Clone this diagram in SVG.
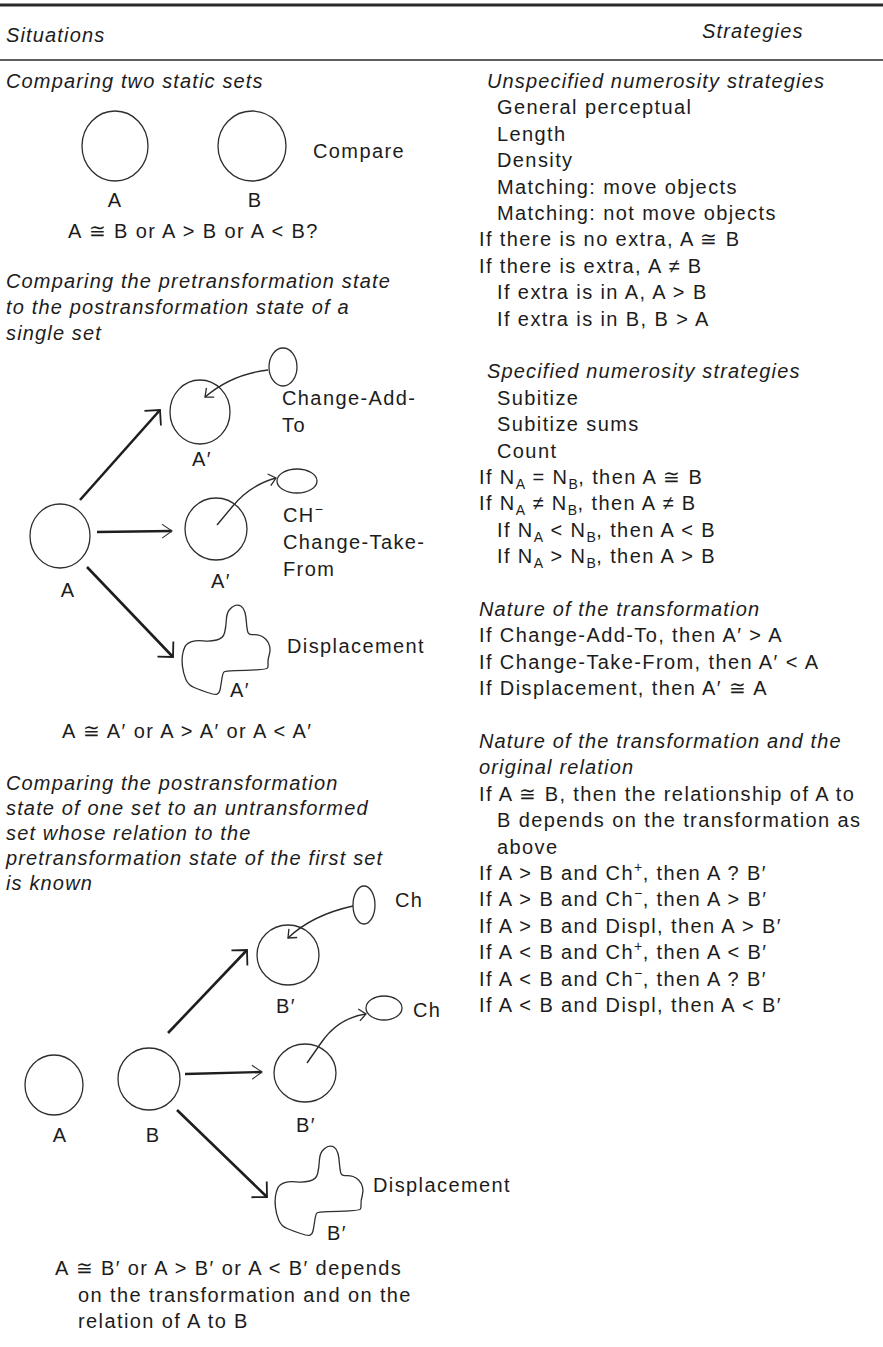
<svg xmlns="http://www.w3.org/2000/svg" width="883" height="1347" viewBox="0 0 883 1347">
  <style>
    text { font-family: "Liberation Sans", Arial, Helvetica, sans-serif; font-size: 20px; letter-spacing: 1.4px; fill: #1c1c1c; }
    .it { font-style: italic; letter-spacing: 1.15px; }
    .mid { text-anchor: middle; }
    .sub { font-size: 14px; letter-spacing: 0.5px; }
    .sup { font-size: 14px; letter-spacing: 0.5px; }
    .set { fill: none; stroke: #2e2e2e; stroke-width: 1.3; }
    .rule { stroke: #2a2a2a; }
    .arrow { fill: none; stroke: #1e1e1e; stroke-width: 2.6; }
    .arrow.h { stroke-width: 2.4; }
    .move { fill: none; stroke: #2a2a2a; stroke-width: 1.4; }
  </style>
  <defs>
    <marker id="corner" viewBox="-16 -16 18 32" refX="0" refY="0" markerWidth="18" markerHeight="32" markerUnits="userSpaceOnUse" orient="auto">
      <path d="M-11,-11 L0,0 L-11,11" fill="none" stroke="#1e1e1e" stroke-width="1.8"/>
    </marker>
    <marker id="vee" viewBox="-16 -16 18 32" refX="0" refY="0" markerWidth="18" markerHeight="32" markerUnits="userSpaceOnUse" orient="auto">
      <path d="M-10,-7 L0,0 L-10,7" fill="none" stroke="#333" stroke-width="1.1"/>
    </marker>
    <marker id="small" viewBox="-12 -12 14 24" refX="0" refY="0" markerWidth="14" markerHeight="24" markerUnits="userSpaceOnUse" orient="auto">
      <path d="M-7,-6 L0,0 L-7,6" fill="none" stroke="#2a2a2a" stroke-width="1.3"/>
    </marker>
    <!-- irregular outline used for a displaced set -->
    <path id="blob" d="M3,42.65 Q4.7,39.3 9.7,37.65 Q14.7,36 21.35,36.85 Q28,37.7 34.65,36 Q41.3,34.3 42.65,28.5 Q44,22.7 44.35,16 Q44.7,9.3 47.2,6 Q49.7,2.7 53,1.5 Q56.3,0.3 59.15,2.3 Q62,4.3 63,8.5 Q64,12.7 64.35,17.7 Q64.7,22.7 65.5,26.85 Q66.3,31 70.5,30.65 Q74.7,30.3 78,31.5 Q81.3,32.7 83.8,35.2 Q86.3,37.7 87.5,41.85 Q88.7,46 87.2,51 Q85.7,56 86,59.35 Q86.3,62.7 85.5,64 Q84.7,65.3 74.35,65.8 Q64,66.3 53.5,66.65 Q43,67 41.85,68.15 Q40.7,69.3 39.7,76 Q38.7,82.7 38,86 Q37.3,89.3 35.15,90.15 Q33,91 25.5,88.5 Q18,86 12.15,83.5 Q6.3,81 3.8,75.15 Q1.3,69.3 0.5,62.65 Q-0.3,56 0.5,51 Q1.3,46 3,42.65 Z"/>
  </defs>

  <rect width="883" height="1347" fill="#ffffff"/>

  <!-- table head -->
  <g id="table-head">
    <line class="rule" x1="0" y1="5" x2="883" y2="5" stroke-width="3"/>
    <text class="it" x="6" y="42">Situations</text>
    <text class="it" x="702" y="38">Strategies</text>
    <line class="rule" x1="0" y1="60" x2="883" y2="60" stroke-width="1.5"/>
  </g>

  <!-- left column: situations -->
  <g id="situation-texts">
    <text class="it" x="6" y="88">Comparing two static sets</text>
    <text x="313" y="158">Compare</text>
    <text x="68" y="238">A ≅ B or A &gt; B or A &lt; B?</text>

    <text class="it" x="6" y="288">Comparing the pretransformation state</text>
    <text class="it" x="6" y="314">to the postransformation state of a</text>
    <text class="it" x="6" y="340">single set</text>
    <text x="282" y="405">Change-Add-</text>
    <text x="282" y="432">To</text>
    <text x="283" y="522">CH<tspan class="sup" dy="-8">−</tspan></text>
    <text x="283" y="549">Change-Take-</text>
    <text x="283" y="576">From</text>
    <text x="287" y="653">Displacement</text>
    <text x="62" y="738">A ≅ A′ or A &gt; A′ or A &lt; A′</text>

    <text class="it" x="6" y="790">Comparing the postransformation</text>
    <text class="it" x="6" y="815">state of one set to an untransformed</text>
    <text class="it" x="6" y="840">set whose relation to the</text>
    <text class="it" x="6" y="865">pretransformation state of the first set</text>
    <text class="it" x="6" y="890">is known</text>
    <text x="395" y="907">Ch</text>
    <text x="413" y="1017">Ch</text>
    <text x="373" y="1192">Displacement</text>
    <text x="55" y="1275">A ≅ B′ or A &gt; B′ or A &lt; B′ depends</text>
    <text x="78" y="1302">on the transformation and on the</text>
    <text x="78" y="1328">relation of A to B</text>
  </g>

  <!-- static sets -->
  <g id="set-a-static">
    <ellipse class="set" cx="115" cy="146" rx="33" ry="35"/>
    <text class="mid" x="115" y="207">A</text>
  </g>
  <g id="set-b-static">
    <ellipse class="set" cx="252" cy="146" rx="34" ry="35"/>
    <text class="mid" x="255" y="207">B</text>
  </g>

  <!-- single set before and after transformation -->
  <g id="set-a">
    <ellipse class="set" cx="60" cy="536" rx="30" ry="32"/>
    <text class="mid" x="68" y="597">A</text>
  </g>
  <g id="set-a-added">
    <ellipse class="set" cx="200" cy="412" rx="30" ry="32"/>
    <text class="mid" x="202" y="466">A′</text>
  </g>
  <g id="extra-added">
    <ellipse class="set" cx="283" cy="367" rx="14" ry="19"/>
  </g>
  <g id="set-a-taken">
    <ellipse class="set" cx="216" cy="529" rx="31" ry="31"/>
    <text class="mid" x="221" y="588">A′</text>
  </g>
  <g id="extra-taken">
    <ellipse class="set" cx="297" cy="481" rx="20" ry="12"/>
  </g>
  <g id="set-a-displaced">
    <use href="#blob" class="set" x="182" y="604"/>
    <text x="230" y="697">A′</text>
  </g>

  <!-- sets A and B, B transformed -->
  <g id="set-a-fixed">
    <ellipse class="set" cx="54" cy="1085" rx="29" ry="30"/>
    <text class="mid" x="60" y="1142">A</text>
  </g>
  <g id="set-b">
    <ellipse class="set" cx="149" cy="1079" rx="31" ry="31"/>
    <text class="mid" x="153" y="1142">B</text>
  </g>
  <g id="set-b-added">
    <ellipse class="set" cx="288" cy="955" rx="31" ry="30"/>
    <text class="mid" x="286" y="1013">B′</text>
  </g>
  <g id="extra-b-added">
    <ellipse class="set" cx="364" cy="905" rx="11" ry="19"/>
  </g>
  <g id="set-b-taken">
    <ellipse class="set" cx="305" cy="1073" rx="31" ry="29"/>
    <text class="mid" x="306" y="1132">B′</text>
  </g>
  <g id="extra-b-taken">
    <ellipse class="set" cx="384" cy="1008" rx="18" ry="12"/>
  </g>
  <g id="set-b-displaced">
    <use href="#blob" class="set" x="275" y="1145"/>
    <text x="327" y="1240">B′</text>
  </g>

  <!-- transformation arrows -->
  <g id="connectors">
    <line class="arrow" x1="80" y1="500" x2="160" y2="410" marker-end="url(#corner)"/>
    <line class="arrow h" x1="97" y1="532" x2="172" y2="531" marker-end="url(#vee)"/>
    <line class="arrow" x1="87" y1="567" x2="173" y2="657" marker-end="url(#corner)"/>
    <path class="move" d="M268,370 Q232,374 205,397" marker-end="url(#small)"/>
    <path class="move" d="M217,525 L232,507 Q250,485 276,478" marker-end="url(#small)"/>

    <line class="arrow" x1="168" y1="1033" x2="247" y2="950" marker-end="url(#corner)"/>
    <line class="arrow h" x1="185" y1="1074" x2="262" y2="1072" marker-end="url(#vee)"/>
    <line class="arrow" x1="177" y1="1110" x2="267" y2="1197" marker-end="url(#corner)"/>
    <path class="move" d="M353,906 Q312,915 288,938" marker-end="url(#small)"/>
    <path class="move" d="M307,1063 L321,1043 Q338,1018 366,1014" marker-end="url(#small)"/>
  </g>

  <!-- right column: strategies -->
  <g id="strategy-texts">
    <text class="it" x="487" y="88">Unspecified numerosity strategies</text>
    <text x="497" y="114.4">General perceptual</text>
    <text x="497" y="140.8">Length</text>
    <text x="497" y="167.2">Density</text>
    <text x="497" y="193.6">Matching: move objects</text>
    <text x="497" y="220">Matching: not move objects</text>
    <text x="479" y="246.4">If there is no extra, A ≅ B</text>
    <text x="479" y="272.8">If there is extra, A ≠ B</text>
    <text x="497" y="299.2">If extra is in A, A &gt; B</text>
    <text x="497" y="325.6">If extra is in B, B &gt; A</text>

    <text class="it" x="487" y="378.4">Specified numerosity strategies</text>
    <text x="497" y="404.8">Subitize</text>
    <text x="497" y="431.2">Subitize sums</text>
    <text x="497" y="457.6">Count</text>
    <text x="479" y="484">If N<tspan class="sub" dy="5">A</tspan><tspan dy="-5"> = N</tspan><tspan class="sub" dy="5">B</tspan><tspan dy="-5">, then A ≅ B</tspan></text>
    <text x="479" y="510.4">If N<tspan class="sub" dy="5">A</tspan><tspan dy="-5"> ≠ N</tspan><tspan class="sub" dy="5">B</tspan><tspan dy="-5">, then A ≠ B</tspan></text>
    <text x="497" y="536.8">If N<tspan class="sub" dy="5">A</tspan><tspan dy="-5"> &lt; N</tspan><tspan class="sub" dy="5">B</tspan><tspan dy="-5">, then A &lt; B</tspan></text>
    <text x="497" y="563.2">If N<tspan class="sub" dy="5">A</tspan><tspan dy="-5"> &gt; N</tspan><tspan class="sub" dy="5">B</tspan><tspan dy="-5">, then A &gt; B</tspan></text>

    <text class="it" x="479" y="616">Nature of the transformation</text>
    <text x="479" y="642.4">If Change-Add-To, then A′ &gt; A</text>
    <text x="479" y="668.8">If Change-Take-From, then A′ &lt; A</text>
    <text x="479" y="695.2">If Displacement, then A′ ≅ A</text>

    <text class="it" x="479" y="748">Nature of the transformation and the</text>
    <text class="it" x="479" y="774.4">original relation</text>
    <text x="479" y="800.8">If A ≅ B, then the relationship of A to</text>
    <text x="497" y="827.2">B depends on the transformation as</text>
    <text x="497" y="853.6">above</text>
    <text x="479" y="880">If A &gt; B and Ch<tspan class="sup" dy="-8">+</tspan><tspan dy="8">, then A ? B′</tspan></text>
    <text x="479" y="906.4">If A &gt; B and Ch<tspan class="sup" dy="-8">−</tspan><tspan dy="8">, then A &gt; B′</tspan></text>
    <text x="479" y="932.8">If A &gt; B and Displ, then A &gt; B′</text>
    <text x="479" y="959.2">If A &lt; B and Ch<tspan class="sup" dy="-8">+</tspan><tspan dy="8">, then A &lt; B′</tspan></text>
    <text x="479" y="985.6">If A &lt; B and Ch<tspan class="sup" dy="-8">−</tspan><tspan dy="8">, then A ? B′</tspan></text>
    <text x="479" y="1012">If A &lt; B and Displ, then A &lt; B′</text>
  </g>
</svg>
